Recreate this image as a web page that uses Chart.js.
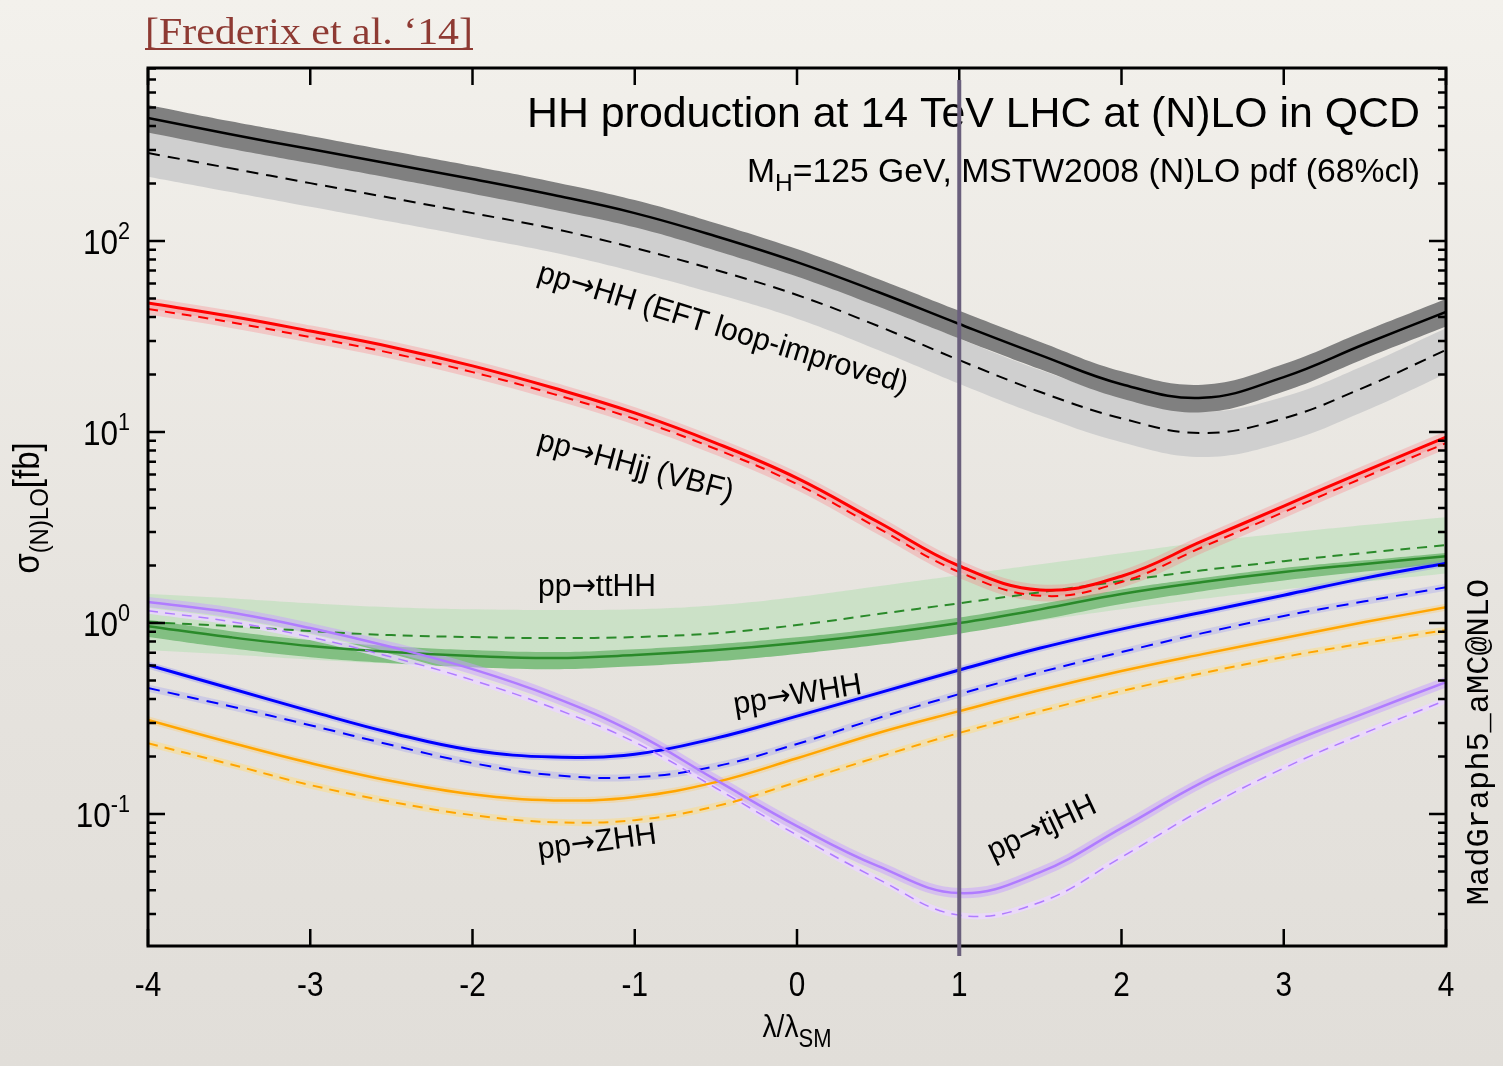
<!DOCTYPE html>
<html>
<head>
<meta charset="utf-8">
<title>HH production at 14 TeV LHC</title>
<script src="https://cdn.jsdelivr.net/npm/chart.js@4.4.1/dist/chart.umd.min.js"></script>
<style>
  html, body { margin: 0; padding: 0; }
  body {
    width: 1503px; height: 1066px; overflow: hidden;
    background: linear-gradient(#f3f1ec, #e6e3de 60%, #e1ded9);
  }
  #chart { display: block; }
</style>
</head>
<body>
<canvas id="chart" width="1503" height="1066"></canvas>
<script>

// lambda / lambda_SM
const lambdas = [-4, -3.5, -3, -2.5, -2, -1.5, -1, -0.5, 0, 0.5, 1, 1.5, 2, 2.5, 3, 3.5, 4];

// pp -> HH (EFT loop-improved), fb
const hhNLO     = [441, 363, 303, 253, 211, 174, 140, 106, 77.6, 54.1, 36.8, 25.3, 17.8, 15.1, 19.4, 28.9, 42.5];
const hhNLOUp   = [516, 425, 355, 296, 247, 204, 164, 124, 90.8, 63.3, 43.1, 29.6, 20.8, 17.7, 22.7, 33.8, 49.7];
const hhNLODown = [370, 305, 255, 213, 177, 146, 118, 89.0, 65.2, 45.4, 30.9, 21.3, 15.0, 12.7, 16.3, 24.3, 35.7];
const hhLO      = [289, 241, 201, 168, 140, 116, 91.9, 70.5, 52.2, 35.9, 23.8, 16.2, 11.8, 9.88, 11.8, 17.2, 26.9];
const hhLOUp    = [376, 313, 261, 218, 182, 151, 119, 91.7, 67.9, 46.7, 30.9, 21.1, 15.3, 12.8, 15.3, 22.4, 35.0];
const hhLODown  = [217, 181, 151, 126, 105, 87.0, 68.9, 52.9, 39.2, 26.9, 17.9, 12.2, 8.85, 7.41, 8.85, 12.9, 20.2];

// pp -> HHjj (VBF)
const vbfNLO = [47.4, 40.5, 33.8, 27.9, 22.2, 17.0, 12.6, 8.76, 5.74, 3.38, 1.99, 1.49, 1.76, 2.69, 4.10, 6.25, 9.41];
const vbfLO  = [44.1, 37.7, 31.4, 25.9, 20.6, 15.8, 11.7, 8.15, 5.34, 3.14, 1.85, 1.39, 1.64, 2.50, 3.81, 5.81, 8.75];

// pp -> ttHH
const ttNLO     = [0.964, 0.845, 0.758, 0.705, 0.672, 0.656, 0.680, 0.722, 0.786, 0.876, 1.00, 1.18, 1.42, 1.64, 1.85, 2.04, 2.24];
const ttNLOUp   = [1.04, 0.91, 0.815, 0.757, 0.722, 0.705, 0.73, 0.775, 0.843, 0.937, 1.07, 1.26, 1.50, 1.72, 1.94, 2.13, 2.33];
const ttNLODown = [0.845, 0.74, 0.663, 0.617, 0.588, 0.574, 0.595, 0.632, 0.690, 0.77, 0.88, 1.04, 1.26, 1.47, 1.67, 1.86, 2.06];
const ttLO      = [1.012, 0.965, 0.908, 0.865, 0.845, 0.835, 0.845, 0.886, 0.976, 1.115, 1.27, 1.45, 1.66, 1.89, 2.11, 2.33, 2.56];
const ttLOUp    = [1.42, 1.35, 1.27, 1.21, 1.18, 1.17, 1.18, 1.24, 1.37, 1.56, 1.78, 2.03, 2.32, 2.65, 2.95, 3.26, 3.58];
const ttLODown  = [0.72, 0.685, 0.645, 0.614, 0.60, 0.593, 0.60, 0.629, 0.693, 0.79, 0.90, 1.03, 1.18, 1.34, 1.50, 1.65, 1.82];

// pp -> WHH
const whhNLO = [0.603, 0.457, 0.346, 0.266, 0.216, 0.199, 0.206, 0.250, 0.326, 0.430, 0.568, 0.740, 0.930, 1.14, 1.40, 1.72, 2.06];
const whhLO  = [0.457, 0.368, 0.292, 0.230, 0.185, 0.160, 0.156, 0.178, 0.233, 0.318, 0.425, 0.554, 0.705, 0.886, 1.09, 1.30, 1.54];

// pp -> ZHH
const zhhNLO = [0.311, 0.238, 0.185, 0.149, 0.127, 0.118, 0.123, 0.147, 0.196, 0.266, 0.346, 0.446, 0.561, 0.688, 0.835, 1.012, 1.21];
const zhhLO  = [0.235, 0.183, 0.142, 0.116, 0.0988, 0.0908, 0.0930, 0.110, 0.147, 0.199, 0.266, 0.346, 0.441, 0.547, 0.664, 0.786, 0.919];

// pp -> tjHH
const tjNLO = [1.29, 1.14, 0.942, 0.749, 0.574, 0.410, 0.266, 0.151, 0.0865, 0.0534, 0.0386, 0.0497, 0.0845, 0.147, 0.230, 0.338, 0.491];
const tjLO  = [1.16, 1.02, 0.845, 0.664, 0.503, 0.359, 0.238, 0.137, 0.0777, 0.0457, 0.0296, 0.0346, 0.0595, 0.106, 0.174, 0.266, 0.395];

const xTicks = [-4, -3, -2, -1, 0, 1, 2, 3, 4];
const yDecades = [-1, 0, 1, 2];
const curveLabels = [
    { proc: 'HH (EFT loop-improved)', x: 536, y: 281, angle: 17 },
    { proc: 'HHjj (VBF)', x: 536, y: 449, angle: 15 },
    { proc: 'ttHH', x: 538, y: 596, angle: 0 },
    { proc: 'WHH', x: 735, y: 714, angle: -9 },
    { proc: 'ZHH', x: 539, y: 859, angle: -7.5 },
    { proc: 'tjHH', x: 993, y: 861, angle: -25 }
];

const Y_MIN = 0.0204;
const Y_MAX = 805;
const SANS = '"Liberation Sans", Arial, Helvetica, sans-serif';
const ARROW_FONT = '"DejaVu Sans", sans-serif';


function pts(arr) {
    return lambdas.map((x, i) => ({ x: x, y: arr[i] }));
}

// datasets are pushed bottom -> top, order is fixed afterwards
const datasets = [];

function addBand(upper, lower, color) {
    const lowIdx = datasets.length;
    datasets.push({ data: pts(lower), borderWidth: 0, fill: false });
    datasets.push({ data: pts(upper), borderWidth: 0, fill: lowIdx, backgroundColor: color });
}

function addLine(arr, color, width, dash) {
    datasets.push({ data: pts(arr), borderColor: color, borderWidth: width, borderDash: dash || [], fill: false });
}

addBand(hhLOUp, hhLODown, '#cfcfcf');
addBand(hhNLOUp, hhNLODown, '#808080');
addBand(ttLOUp, ttLODown, 'rgba(170, 222, 170, 0.45)');
addBand(ttNLOUp, ttNLODown, '#82bf82');

// soft halos standing in for the thin uncertainty bands
addLine(vbfLO, 'rgba(255, 110, 120, 0.28)', 11);
addLine(vbfNLO, 'rgba(255, 110, 120, 0.28)', 11);
addLine(whhLO, 'rgba(120, 120, 255, 0.22)', 7);
addLine(whhNLO, 'rgba(120, 120, 255, 0.28)', 7);
addLine(zhhLO, 'rgba(255, 220, 120, 0.45)', 7);
addLine(zhhNLO, 'rgba(255, 200, 90, 0.3)', 7);
addLine(tjLO, 'rgba(235, 215, 255, 0.8)', 6);
addLine(tjNLO, 'rgba(200, 160, 255, 0.5)', 10);

addLine(ttLO, '#2a8a2a', 2, [10, 7]);
addLine(ttNLO, '#2a8a2a', 2.5);
addLine(hhLO, '#000000', 2, [12, 8]);
addLine(hhNLO, '#000000', 2.5);
addLine(vbfLO, '#ff0000', 2, [10, 7]);
addLine(vbfNLO, '#ff0000', 3);
addLine(zhhLO, '#ffa500', 2, [10, 7]);
addLine(zhhNLO, '#ffa500', 2.5);
addLine(whhLO, '#0000ff', 2, [12, 8]);
addLine(whhNLO, '#0000ff', 3);
addLine(tjLO, '#b07cff', 1.5, [10, 7]);
addLine(tjNLO, '#b07cff', 2.5);

datasets.forEach((d, i) => { d.order = datasets.length - i; });


function drawRuns(ctx, runs, x, y, opts) {
    const family = opts.family || SANS;
    let total = 0;
    runs.forEach(r => {
        ctx.font = r.size + 'px ' + (r.family || family);
        r.w = ctx.measureText(r.text).width;
        total += r.w;
    });
    const sx = opts.width ? opts.width / total : (opts.squeeze || 1);
    ctx.save();
    ctx.translate(x, y);
    if (opts.angle) ctx.rotate(opts.angle * Math.PI / 180);
    ctx.scale(sx, 1);
    ctx.fillStyle = opts.color || '#000';
    ctx.textAlign = 'left';
    ctx.textBaseline = 'alphabetic';
    let cx = 0;
    if (opts.align === 'right') cx = -total;
    if (opts.align === 'center') cx = -total / 2;
    runs.forEach(r => {
        ctx.font = r.size + 'px ' + (r.family || family);
        ctx.fillText(r.text, cx, r.dy || 0);
        cx += r.w;
    });
    ctx.restore();
    return total * sx;
}


const framePlugin = {
    id: 'frame',
    afterDatasetsDraw(chart) {
        const ctx = chart.ctx;
        const area = chart.chartArea;
        const xs = chart.scales.x;
        const ys = chart.scales.y;

        // titles inside the frame
        drawRuns(ctx, [{ text: 'HH production at 14 TeV LHC at (N)LO in QCD', size: 42 }],
            1420, 127, { align: 'right', width: 893 });
        drawRuns(ctx, [
            { text: 'M', size: 33 },
            { text: 'H', size: 24, dy: 9 },
            { text: '=125 GeV, MSTW2008 (N)LO pdf (68%cl)', size: 33 }
        ], 1420, 182, { align: 'right', width: 673 });

        curveLabels.forEach(l => {
            drawRuns(ctx, [
                { text: 'pp', size: 31 },
                { text: '\u2192', size: 30, family: ARROW_FONT, dy: -1 },
                { text: l.proc, size: 31 }
            ], l.x, l.y, { angle: l.angle, squeeze: 0.97 });
        });

        // frame
        ctx.save();
        ctx.strokeStyle = '#000';
        ctx.lineWidth = 3;
        ctx.strokeRect(area.left, area.top, area.right - area.left, area.bottom - area.top);

        ctx.lineWidth = 2.5;
        ctx.beginPath();
        xTicks.forEach(v => {
            const px = xs.getPixelForValue(v);
            ctx.moveTo(px, area.bottom);
            ctx.lineTo(px, area.bottom - 17);
            ctx.moveTo(px, area.top);
            ctx.lineTo(px, area.top + 17);
        });
        for (let k = -2; k <= 2; k++) {
            for (let m = 1; m <= 9; m++) {
                const v = m * Math.pow(10, k);
                if (v < Y_MIN || v > Y_MAX) continue;
                const py = ys.getPixelForValue(v);
                const len = m === 1 ? 17 : 8;
                ctx.moveTo(area.left, py);
                ctx.lineTo(area.left + len, py);
                ctx.moveTo(area.right, py);
                ctx.lineTo(area.right - len, py);
            }
        }
        ctx.stroke();
        ctx.restore();

        // SM point
        const x1 = xs.getPixelForValue(1);
        ctx.save();
        ctx.strokeStyle = '#6a5f7c';
        ctx.lineWidth = 4;
        ctx.beginPath();
        ctx.moveTo(x1, area.top + 12);
        ctx.lineTo(x1, area.bottom + 10);
        ctx.stroke();
        ctx.restore();
    },
    afterDraw(chart) {
        const ctx = chart.ctx;
        const xs = chart.scales.x;
        const ys = chart.scales.y;

        // tick labels
        xTicks.forEach(v => {
            drawRuns(ctx, [{ text: String(v), size: 35 }], xs.getPixelForValue(v), 996,
                { align: 'center', squeeze: 0.85 });
        });
        yDecades.forEach(k => {
            drawRuns(ctx, [
                { text: '10', size: 35 },
                { text: String(k), size: 24, dy: -15 }
            ], 130, ys.getPixelForValue(Math.pow(10, k)) + 13, { align: 'right', squeeze: 0.9 });
        });

        // axis titles
        drawRuns(ctx, [
            { text: '\u03bb/\u03bb', size: 32 },
            { text: 'SM', size: 25, dy: 10 }
        ], 797, 1037, { align: 'center', squeeze: 0.88 });
        drawRuns(ctx, [
            { text: '\u03c3', size: 36 },
            { text: '(N)LO', size: 26, dy: 9 },
            { text: '[fb]', size: 36 }
        ], 39, 508, { align: 'center', angle: -90, squeeze: 0.92 });

        drawRuns(ctx, [{ text: 'MadGraph5_aMC@NLO', size: 32 }], 1488, 742,
            { align: 'center', angle: -90, family: '"Liberation Mono", "DejaVu Sans Mono", monospace' });

        // citation
        ctx.save();
        const w = drawRuns(ctx, [{ text: '[Frederix et al. \u201814]', size: 38 }], 145, 44,
            { width: 328, color: '#8e3a33', family: '"Liberation Serif", "DejaVu Serif", serif' });
        ctx.strokeStyle = '#8e3a33';
        ctx.lineWidth = 2;
        ctx.beginPath();
        ctx.moveTo(145, 49);
        ctx.lineTo(145 + w, 49);
        ctx.stroke();
        ctx.restore();
    }
};


const chart = new Chart(document.getElementById('chart').getContext('2d'), {
    type: 'line',
    data: { datasets: datasets },
    options: {
        responsive: false,
        animation: false,
        devicePixelRatio: 1,
        layout: { padding: { left: 148, top: 68, right: 57, bottom: 120 } },
        scales: {
            x: { type: 'linear', min: -4, max: 4, display: false },
            y: { type: 'logarithmic', min: Y_MIN, max: Y_MAX, display: false }
        },
        elements: {
            point: { radius: 0 },
            line: { tension: 0.4 }
        },
        plugins: {
            legend: { display: false },
            tooltip: { enabled: false }
        }
    },
    plugins: [framePlugin]
});
</script>
</body>
</html>
